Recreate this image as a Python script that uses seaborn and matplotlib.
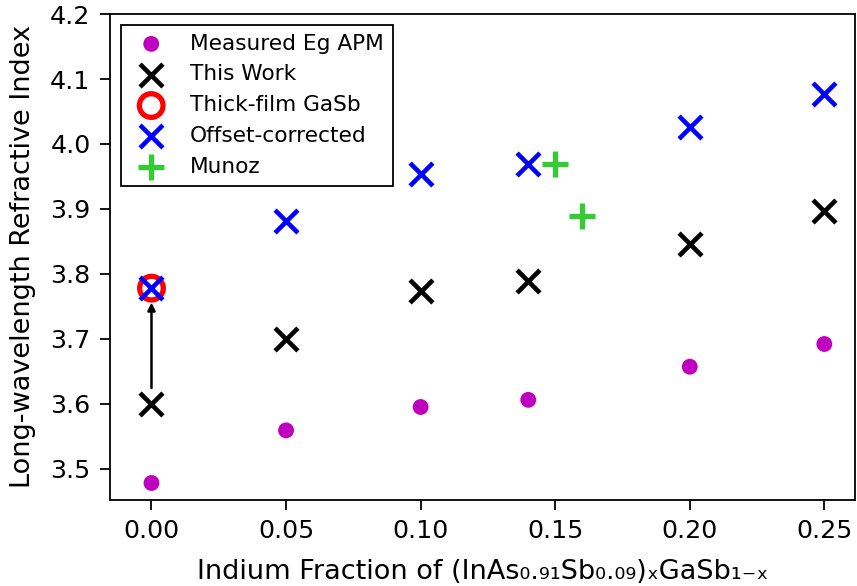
import matplotlib
matplotlib.use("Agg")
import matplotlib.pyplot as plt
import seaborn as sns

# indium fraction
x_apm = [0.00, 0.05, 0.10, 0.14, 0.20, 0.25]
y_apm = [3.478, 3.559, 3.595, 3.606, 3.657, 3.692]

x_work = [0.00, 0.05, 0.10, 0.14, 0.20, 0.25]
y_work = [3.600, 3.700, 3.774, 3.789, 3.846, 3.897]

x_gasb = [0.00]
y_gasb = [3.778]

x_offset = [0.00, 0.05, 0.10, 0.14, 0.20, 0.25]
y_offset = [3.778, 3.881, 3.954, 3.969, 4.026, 4.077]

x_munoz = [0.15, 0.16]
y_munoz = [3.969, 3.889]

sns.set_style("ticks", {"axes.edgecolor": "black", "text.color": "black",
                        "axes.labelcolor": "black", "xtick.color": "black",
                        "ytick.color": "black"})
plt.rcParams["font.family"] = ["DejaVu Sans"]

fig, ax = plt.subplots(figsize=(8.57, 5.86), dpi=100)

sns.scatterplot(x=x_apm, y=y_apm, ax=ax, color="#BF00BF", s=130, marker="o",
                edgecolor="none", label="Measured Eg APM", zorder=3)
sns.scatterplot(x=x_work, y=y_work, ax=ax, color="black", s=270, marker="x",
                linewidth=3.3, label="This Work", zorder=3)
sns.scatterplot(x=x_gasb, y=y_gasb, ax=ax, facecolor="none", edgecolor="red", s=290,
                marker="o", linewidth=3.8, label="Thick-film GaSb", zorder=3)
sns.scatterplot(x=x_offset, y=y_offset, ax=ax, color="blue", s=270, marker="x",
                linewidth=3.3, label="Offset-corrected", zorder=4)
sns.scatterplot(x=x_munoz, y=y_munoz, ax=ax, color="#33CC33", s=360, marker="+",
                linewidth=3.8, label="Munoz", zorder=3)

# arrow from measured to corrected value at x = 0
ax.annotate("", xy=(x_gasb[0], y_gasb[0] - 0.018), xytext=(x_work[0], y_work[0] + 0.02),
            arrowprops=dict(arrowstyle="-|>", color="black", lw=1.8, mutation_scale=11))

ax.set_xlim(-0.0154, 0.2615)
ax.set_ylim(3.452, 4.2)
ax.set_xticks([0.00, 0.05, 0.10, 0.15, 0.20, 0.25])
ax.tick_params(labelsize=18.3, width=1.3, length=7, pad=7)
for sp in ax.spines.values():
    sp.set_linewidth(1.3)
ax.set_xlabel("Indium Fraction of (InAs\u2080.\u2089\u2081Sb\u2080.\u2080\u2089)\u2093GaSb\u2081\u208b\u2093", fontsize=19.5,
              labelpad=11)
ax.set_ylabel("Long-wavelength Refractive Index", fontsize=19.5, labelpad=10)

leg = ax.legend(loc="upper left", fontsize=15.6, frameon=True, fancybox=False,
                edgecolor="black", framealpha=1, borderaxespad=0.5)
leg.get_frame().set_linewidth(1.3)

fig.subplots_adjust(left=0.1284, right=0.998, top=0.976, bottom=0.147)
fig.savefig("out.png", dpi=100)
